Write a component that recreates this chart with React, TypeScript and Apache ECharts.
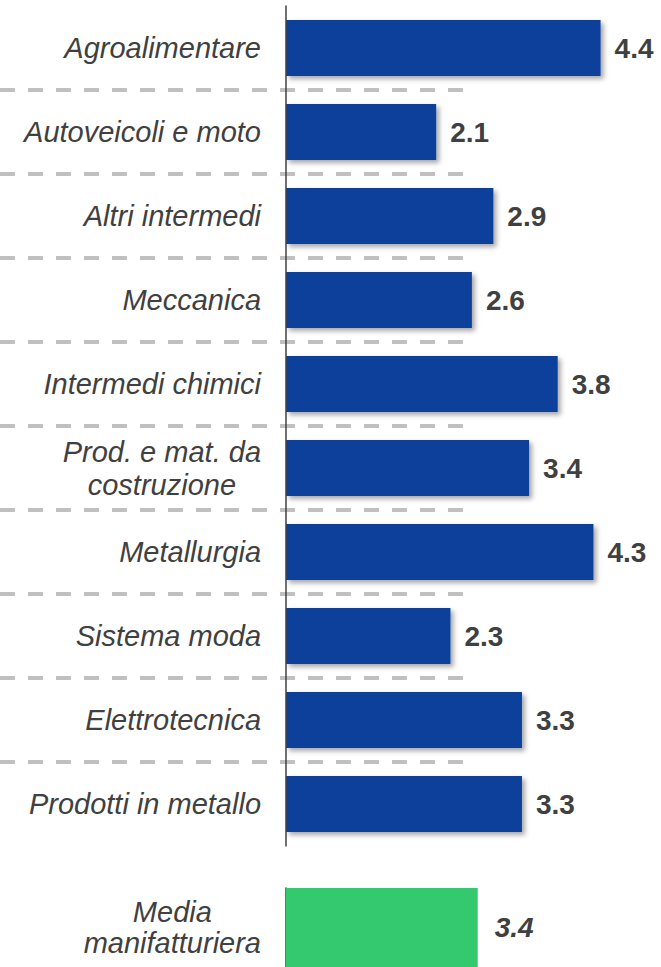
import React, { useEffect, useRef } from 'react';
import * as echarts from 'echarts';

const categories = [
  'Agroalimentare',
  'Autoveicoli e moto',
  'Altri intermedi',
  'Meccanica',
  'Intermedi chimici',
  'Prod. e mat. da\ncostruzione',
  'Metallurgia',
  'Sistema moda',
  'Elettrotecnica',
  'Prodotti in metallo',
];
const values = [4.4, 2.1, 2.9, 2.6, 3.8, 3.4, 4.3, 2.3, 3.3, 3.3];
const avgCategory = ['Media\nmanifatturiera'];
const avgValues = [3.4];

const FONT = "'Liberation Sans', Arial, sans-serif";
const TEXT = '#404040';

const catLabel = (lineHeight: number) => ({
  show: true,
  margin: 25,
  formatter: (v: string) => v.split('\n').map((l) => `{c|${l}}`).join('\n'),
  rich: {
    c: {
      align: 'center',
      fontSize: 29,
      fontStyle: 'italic',
      fontFamily: FONT,
      color: TEXT,
      lineHeight,
    },
  },
});

export default function App() {
  const ref = useRef<HTMLDivElement>(null);
  useEffect(() => {
    if (!ref.current) return;
    const chart = echarts.init(ref.current, null, { renderer: 'svg' });
    chart.setOption({
      animation: false,
      backgroundColor: '#ffffff',
      grid: [
        { left: 286, top: 6, width: 357.5, height: 840 },
        { left: 0, top: 6, width: 464, height: 840 },
        { left: 286, top: 888, width: 282, height: 90 },
      ],
      xAxis: [
        { gridIndex: 0, type: 'value', min: 0, max: 5, show: false },
        { gridIndex: 1, type: 'value', min: 0, max: 5, show: false },
        { gridIndex: 2, type: 'value', min: 0, max: 5, show: false },
      ],
      yAxis: [
        {
          gridIndex: 0,
          type: 'category',
          data: categories,
          inverse: true,
          axisLine: { show: true, lineStyle: { color: TEXT, width: 1.5 } },
          axisTick: { show: false },
          splitLine: { show: false },
          axisLabel: catLabel(33),
          z: 3,
        },
        {
          gridIndex: 1,
          type: 'category',
          data: categories,
          inverse: true,
          axisLine: { show: false },
          axisTick: { show: false },
          axisLabel: { show: false },
          splitLine: {
            show: true,
            showMinLine: false,
            showMaxLine: false,
            lineStyle: { color: '#C0C0C0', width: 4, type: [15, 13] },
          },
          z: 1,
        },
        {
          gridIndex: 2,
          type: 'category',
          data: avgCategory,
          inverse: true,
          axisLine: { show: true, lineStyle: { color: TEXT, width: 1.5 } },
          axisTick: { show: false },
          splitLine: { show: false },
          axisLabel: catLabel(31),
        },
      ],
      series: [
        {
          type: 'bar',
          xAxisIndex: 0,
          yAxisIndex: 0,
          data: values,
          barWidth: 56,
          itemStyle: {
            color: '#0C409A',
            shadowColor: 'rgba(0,0,0,0.35)',
            shadowBlur: 5,
            shadowOffsetX: 3,
            shadowOffsetY: 3,
          },
          label: {
            show: true,
            position: 'right',
            distance: 14,
            formatter: (p: any) => Number(p.value).toFixed(1),
            fontSize: 28,
            fontWeight: 'bold',
            fontFamily: FONT,
            color: TEXT,
          },
        },
        {
          type: 'bar',
          xAxisIndex: 2,
          yAxisIndex: 2,
          data: avgValues,
          barWidth: 82,
          itemStyle: { color: '#35C96F' },
          label: {
            show: true,
            position: 'right',
            distance: 17,
            formatter: (p: any) => Number(p.value).toFixed(1),
            fontSize: 28,
            fontWeight: 'bold',
            fontStyle: 'italic',
            fontFamily: FONT,
            color: TEXT,
          },
        },
      ],
    });
    return () => chart.dispose();
  }, []);
  return (
    <div
      ref={ref}
      style={{ position: 'absolute', left: 0, top: 0, width: 661, height: 967 }}
    />
  );
}
